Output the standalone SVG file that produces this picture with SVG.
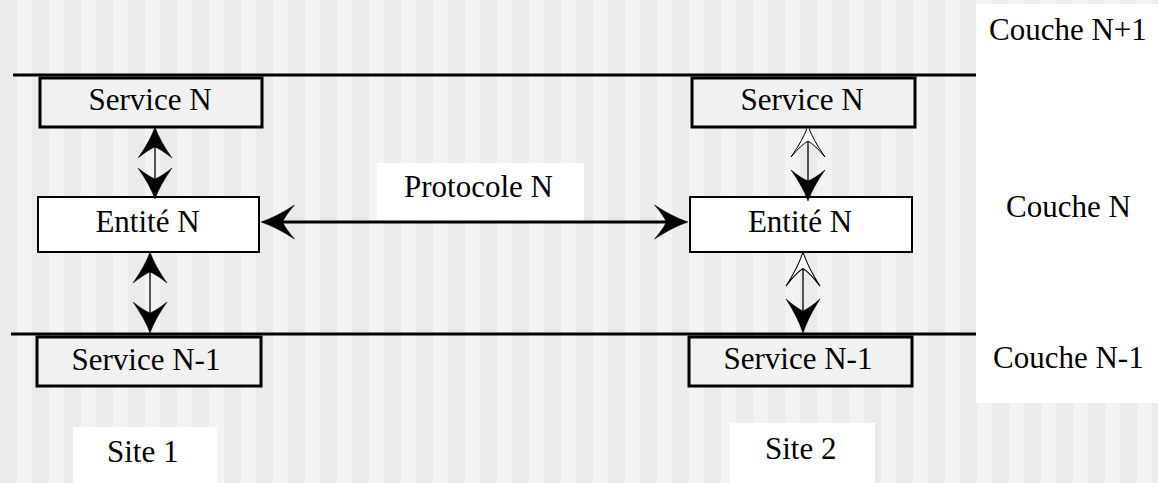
<svg xmlns="http://www.w3.org/2000/svg" width="1158" height="483" viewBox="0 0 1158 483">
<style>
text{font-family:"Liberation Serif","Times New Roman",serif;font-size:31px;fill:#000}
.svc{fill:#f1f1f1;stroke:#000;stroke-width:3}
.ent{fill:#fff;stroke:#000;stroke-width:2}
.layer{stroke:#000;stroke-width:3}
.shaft{stroke:#000;stroke-width:1.3;fill:none}
.filled{fill:#000;stroke:#000;stroke-width:0.5}
.open{fill:#fff;stroke:#000;stroke-width:1}
</style>
<defs>
<pattern id="stripes" x="0" y="0" width="32" height="483" patternUnits="userSpaceOnUse">
<rect x="0" y="0" width="17" height="483" fill="#ebebeb"/>
<rect x="17" y="0" width="15" height="483" fill="#f3f3f3"/>
</pattern>
<path id="head" d="M0,0 Q-5,14 -17,31 Q-7,23 0,20 Q7,23 17,31 Q5,14 0,0 Z"/>
<path id="ohead" d="M0,0 Q-5,14 -17,31 Q-7,19 0,15 Q7,19 17,31 Q5,14 0,0 Z"/>
</defs>
<rect x="0" y="0" width="1158" height="483" fill="url(#stripes)"/>
<rect x="976" y="4" width="182" height="399" fill="#fff"/>
<rect x="377" y="163" width="207" height="59" fill="#fff"/>
<rect x="73" y="427" width="144" height="56" fill="#fff"/>
<rect x="730" y="423" width="145" height="60" fill="#fff"/>

<g id="layers">
<line class="layer" x1="13" y1="75" x2="976" y2="75"/>
<line class="layer" x1="11" y1="334" x2="976" y2="334"/>
</g>

<g id="service-n-1">
<rect class="svc" x="40" y="78" width="222" height="49"/>
<text x="150" y="110" text-anchor="middle">Service N</text>
</g>
<g id="entite-n-1">
<rect class="ent" x="38" y="197" width="221" height="55"/>
<text x="147.5" y="232" text-anchor="middle">Entité N</text>
</g>
<g id="service-nm1-1">
<rect class="svc" x="37" y="337" width="224" height="49"/>
<text x="146" y="370" text-anchor="middle">Service N-1</text>
</g>
<g id="service-n-2">
<rect class="svc" x="692" y="78" width="223" height="49"/>
<text x="802" y="110" text-anchor="middle">Service N</text>
</g>
<g id="entite-n-2">
<rect class="ent" x="690" y="197" width="222" height="55"/>
<text x="800" y="232" text-anchor="middle">Entité N</text>
</g>
<g id="service-nm1-2">
<rect class="svc" x="689" y="337" width="223" height="49"/>
<text x="798" y="369" text-anchor="middle">Service N-1</text>
</g>

<g id="connectors">
<line class="shaft" x1="155" y1="145" x2="155" y2="181"/>
<use href="#head" class="filled" transform="translate(155,127)"/>
<use href="#head" class="filled" transform="translate(155,199) rotate(180)"/>

<line class="shaft" x1="150" y1="270" x2="150" y2="315" stroke="#555"/>
<use href="#head" class="filled" transform="translate(150,252)"/>
<use href="#head" class="filled" transform="translate(150,333) rotate(180)"/>

<line class="shaft" x1="808" y1="140" x2="808" y2="183"/>
<use href="#ohead" class="open" transform="translate(808,126)"/>
<use href="#head" class="filled" transform="translate(808,201) rotate(180)"/>

<line class="shaft" x1="803" y1="268" x2="803" y2="315"/>
<use href="#ohead" class="open" transform="translate(803,252) scale(1,1.1)"/>
<use href="#head" class="filled" transform="translate(803,333) scale(1,1.1) rotate(180)"/>

<line x1="280" y1="222" x2="670" y2="222" stroke="#000" stroke-width="3"/>
<use href="#head" class="filled" transform="translate(261,222) rotate(-90) scale(1,1.08)"/>
<use href="#head" class="filled" transform="translate(688,222) rotate(90) scale(1,1.08)"/>
</g>

<g id="labels">
<text x="404" y="197">Protocole N</text>
<text x="989" y="40">Couche N+1</text>
<text x="1006" y="217">Couche N</text>
<text x="993" y="368">Couche N-1</text>
<text x="107" y="462">Site 1</text>
<text x="765" y="459">Site 2</text>
</g>
</svg>
